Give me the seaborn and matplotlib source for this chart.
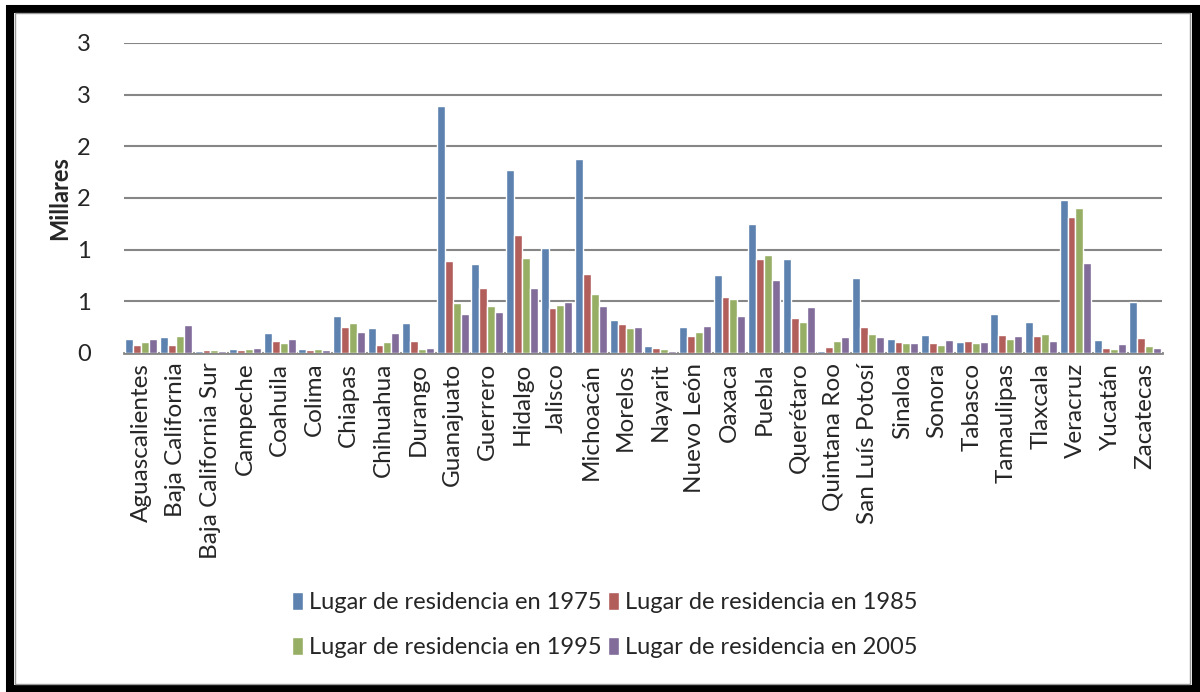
import math
import pandas as pd
import matplotlib
matplotlib.use("Agg")
import matplotlib.pyplot as plt
import seaborn as sns
from matplotlib.patches import Rectangle
from matplotlib.ticker import FuncFormatter, MultipleLocator

estados = ["Aguascalientes", "Baja California", "Baja California Sur", "Campeche",
           "Coahuila", "Colima", "Chiapas", "Chihuahua", "Durango", "Guanajuato",
           "Guerrero", "Hidalgo", "Jalisco", "Michoacán", "Morelos", "Nayarit",
           "Nuevo León", "Oaxaca", "Puebla", "Querétaro", "Quintana Roo",
           "San Luís Potosí", "Sinaloa", "Sonora", "Tabasco", "Tamaulipas",
           "Tlaxcala", "Veracruz", "Yucatán", "Zacatecas"]

# valores en millares
res_1975 = [0.138, 0.151, 0.023, 0.042, 0.193, 0.042, 0.360, 0.244, 0.293, 2.392,
            0.862, 1.775, 1.016, 1.875, 0.318, 0.064, 0.251, 0.756, 1.244, 0.910,
            0.023, 0.730, 0.138, 0.170, 0.109, 0.379, 0.299, 1.479, 0.129, 0.492]
res_1985 = [0.080, 0.080, 0.029, 0.029, 0.116, 0.029, 0.251, 0.077, 0.119, 0.887,
            0.630, 1.145, 0.437, 0.765, 0.277, 0.045, 0.164, 0.540, 0.910, 0.334,
            0.058, 0.254, 0.106, 0.100, 0.119, 0.170, 0.164, 1.312, 0.045, 0.145]
res_1995 = [0.103, 0.167, 0.032, 0.042, 0.096, 0.042, 0.289, 0.103, 0.042, 0.482,
            0.457, 0.916, 0.460, 0.572, 0.244, 0.039, 0.206, 0.527, 0.945, 0.299,
            0.119, 0.186, 0.096, 0.077, 0.100, 0.132, 0.186, 1.399, 0.039, 0.071]
res_2005 = [0.138, 0.270, 0.023, 0.048, 0.138, 0.029, 0.203, 0.193, 0.048, 0.379,
            0.392, 0.630, 0.489, 0.457, 0.251, 0.016, 0.257, 0.360, 0.707, 0.447,
            0.151, 0.151, 0.100, 0.129, 0.109, 0.167, 0.116, 0.871, 0.084, 0.051]

series = ["Lugar de residencia en 1975", "Lugar de residencia en 1985",
          "Lugar de residencia en 1995", "Lugar de residencia en 2005"]
colores = ["#4F81BD", "#C0504D", "#9BBB59", "#8064A2"]

frames = []
for name, vals in zip(series, [res_1975, res_1985, res_1995, res_2005]):
    frames.append(pd.DataFrame({"estado": estados, "valor": vals, "serie": name}))
df = pd.concat(frames, ignore_index=True)

sns.set_style("white")
plt.rcParams["font.family"] = ["Lato", "DejaVu Sans"]

fig = plt.figure(figsize=(12, 6.92), dpi=100)
ax = fig.add_axes([0.1033, 0.4899, 0.8650, 0.4480])

sns.barplot(data=df, x="estado", y="valor", hue="serie", order=estados,
            hue_order=series, palette=colores, width=0.92, errorbar=None,
            edgecolor="white", linewidth=1.0, ax=ax, zorder=3)

ax.set_ylim(0, 3)
ax.set_xlim(-0.5, len(estados) - 0.5)
ax.yaxis.set_major_locator(MultipleLocator(0.5))
ax.yaxis.set_major_formatter(FuncFormatter(lambda v, p: str(int(math.floor(v + 0.5)))))
ax.grid(axis="y", color="#868686", linewidth=1.5, zorder=0)
ax.set_axisbelow(True)
for s in ["top", "right", "left"]:
    ax.spines[s].set_visible(False)
ax.spines["bottom"].set_color("#868686")
ax.spines["bottom"].set_linewidth(2)
ax.tick_params(axis="both", length=0)
ax.tick_params(axis="y", labelsize=17, pad=24)
ax.tick_params(axis="x", labelsize=17.5, pad=7)
plt.setp(ax.get_xticklabels(), rotation=90)
ax.set_xlabel("")
ax.set_ylabel("Millares", fontsize=17, fontweight="bold", labelpad=4)

handles, labels = ax.get_legend_handles_labels()
ax.get_legend().remove()
orden = [0, 2, 1, 3]
fig.legend([handles[i] for i in orden], [labels[i] for i in orden],
           loc="center", bbox_to_anchor=(0.504, 0.097), ncol=2, frameon=False,
           fontsize=17, handlelength=0.45, handleheight=0.8, handletextpad=0.25,
           columnspacing=0.3, labelspacing=1.0)

# marco negro alrededor de la grafica
fig.patches.append(Rectangle((0.0083, 0.005), 0.988, 0.982, transform=fig.transFigure,
                             fill=False, edgecolor="black", linewidth=5.8))
fig.patches.append(Rectangle((0.0125, 0.0115), 0.979, 0.969, transform=fig.transFigure,
                             fill=False, edgecolor="#9a9a9a", linewidth=1.0))

fig.savefig("out.png", dpi=100)
